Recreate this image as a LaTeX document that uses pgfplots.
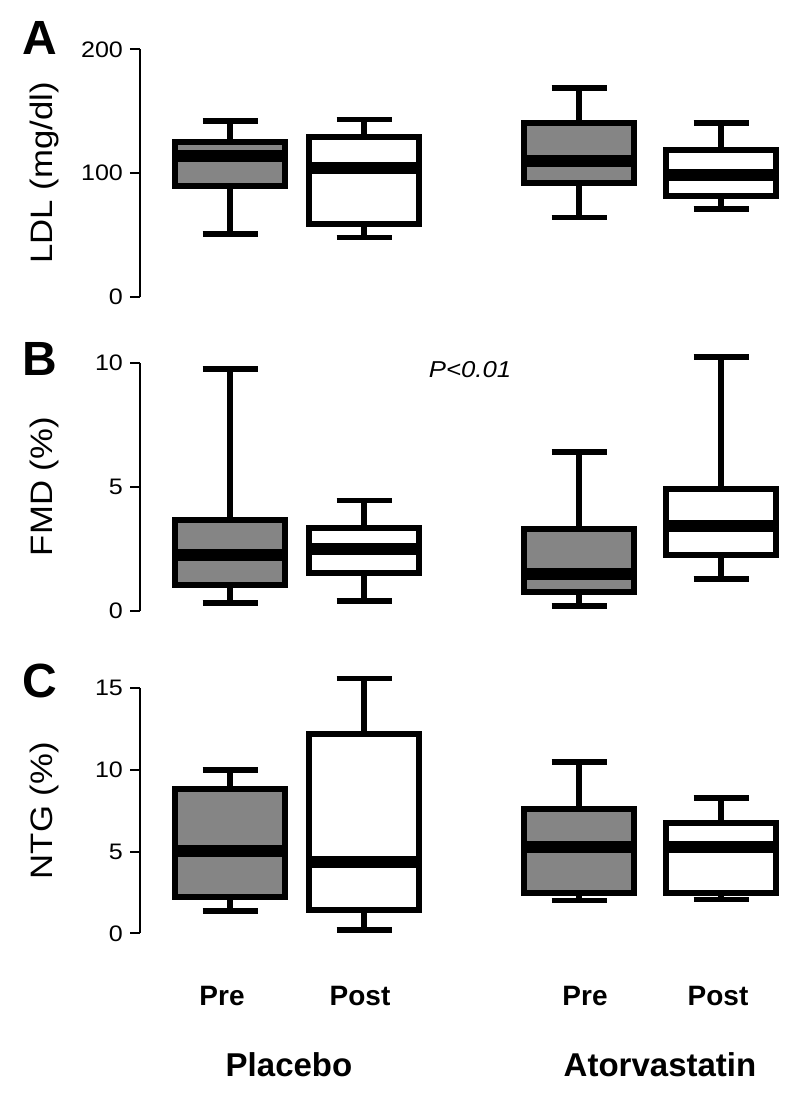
\documentclass[border=0pt]{standalone}
\usepackage{fontspec}
\setmainfont{Liberation Sans}
\newfontfamily\wide[FakeStretch=1.12]{Liberation Sans}
\usepackage{pgfplots}
\pgfplotsset{compat=1.18}
\usepgfplotslibrary{statistics}
\definecolor{boxgray}{RGB}{133,133,133}
\pgfplotsset{
  panel/.style={
    scale only axis, width=325pt,
    xmin=140, xmax=790,
    axis x line=none, axis y line*=left,
    tick align=outside, major tick length=5pt,
    clip=false,
    /pgf/number format/assume math mode=true,
    y axis line style={line width=0.9pt},
    ytick style={line width=0.9pt, black},
    yticklabel style={font=\wide\fontsize{11.2}{13}\selectfont, black},
    ylabel style={font=\wide\fontsize{15.5}{18}\selectfont, at={(axis description cs:-0.1477,0.5)}, anchor=center},
    boxplot/draw direction=y,
    boxplot/box extend=110,
    boxplot/whisker extend=55,
    boxplot/every median/.style={line width=6pt},
    boxplot/every whisker/.style={line width=2.8pt},
  },
  bx/.style={draw=black, line width=3pt, line join=miter, fill=#1},
}
\begin{document}
\begin{tikzpicture}
\useasboundingbox (0,0) rectangle (400pt,-547.5pt);
% Panel A
\begin{axis}[panel, at={(70pt,-148.35pt)}, anchor=south west, height=123.7pt,
  ymin=0, ymax=200, ytick={0,100,200}, ylabel={LDL (mg/dl)}]
\addplot[bx=boxgray, boxplot prepared={draw position=230, lower whisker=50.9, lower quartile=89.5, median=113.7, upper quartile=124.8, upper whisker=141.8}] coordinates {};
\addplot[bx=white, boxplot prepared={draw position=364, lower whisker=48, lower quartile=59, median=103.8, upper quartile=129.1, upper whisker=143.1}] coordinates {};
\addplot[bx=boxgray, boxplot prepared={draw position=579, lower whisker=63.9, lower quartile=91.9, median=109.7, upper quartile=140.4, upper whisker=168.5}] coordinates {};
\addplot[bx=white, boxplot prepared={draw position=721, lower whisker=70.9, lower quartile=81.1, median=98.4, upper quartile=118.9, upper whisker=140.2}] coordinates {};
\end{axis}
% Panel B
\begin{axis}[panel, at={(70pt,-305.35pt)}, anchor=south west, height=124pt,
  ymin=0, ymax=10, ytick={0,5,10}, ylabel={FMD (\%)}]
\addplot[bx=boxgray, boxplot prepared={draw position=230, lower whisker=0.30, lower quartile=1.03, median=2.23, upper quartile=3.64, upper whisker=9.74}] coordinates {};
\addplot[bx=white, boxplot prepared={draw position=364, lower whisker=0.39, lower quartile=1.53, median=2.47, upper quartile=3.33, upper whisker=4.44}] coordinates {};
\addplot[bx=boxgray, boxplot prepared={draw position=579, lower whisker=0.19, lower quartile=0.75, median=1.48, upper quartile=3.31, upper whisker=6.41}] coordinates {};
\addplot[bx=white, boxplot prepared={draw position=721, lower whisker=1.29, lower quartile=2.23, median=3.41, upper quartile=4.89, upper whisker=10.24}] coordinates {};
\end{axis}
% Panel C
\begin{axis}[panel, at={(70pt,-466.65pt)}, anchor=south west, height=122.5pt,
  ymin=0, ymax=15, ytick={0,5,10,15}, ylabel={NTG (\%)}]
\addplot[bx=boxgray, boxplot prepared={draw position=230, lower whisker=1.35, lower quartile=2.2, median=5.04, upper quartile=8.82, upper whisker=10.0}] coordinates {};
\addplot[bx=white, boxplot prepared={draw position=364, lower whisker=0.2, lower quartile=1.43, median=4.35, upper quartile=12.22, upper whisker=15.6}] coordinates {};
\addplot[bx=boxgray, boxplot prepared={draw position=579, lower whisker=2.02, lower quartile=2.45, median=5.31, upper quartile=7.63, upper whisker=10.49}] coordinates {};
\addplot[bx=white, boxplot prepared={draw position=721, lower whisker=2.08, lower quartile=2.45, median=5.31, upper quartile=6.73, upper whisker=8.29}] coordinates {};
\end{axis}
% panel letters and annotations
\node[font=\bfseries\fontsize{24}{28}\selectfont] at (19.75pt,-18.75pt) {A};
\node[font=\bfseries\fontsize{24}{28}\selectfont] at (19.75pt,-179.5pt) {B};
\node[font=\bfseries\fontsize{24}{28}\selectfont] at (19.75pt,-340.5pt) {C};
\node[font=\wide\itshape\fontsize{11.5}{14}\selectfont] at (235pt,-185pt) {P<0.01};
\node[font=\bfseries\fontsize{14}{17}\selectfont] at (111pt,-498pt) {Pre};
\node[font=\bfseries\fontsize{14}{17}\selectfont] at (180pt,-498pt) {Post};
\node[font=\bfseries\fontsize{14}{17}\selectfont] at (292.5pt,-498pt) {Pre};
\node[font=\bfseries\fontsize{14}{17}\selectfont] at (359pt,-498pt) {Post};
\node[font=\bfseries\fontsize{16.5}{20}\selectfont] at (144.5pt,-532.5pt) {Placebo};
\node[font=\bfseries\fontsize{16.5}{20}\selectfont] at (330pt,-532.5pt) {Atorvastatin};
\end{tikzpicture}
\end{document}
